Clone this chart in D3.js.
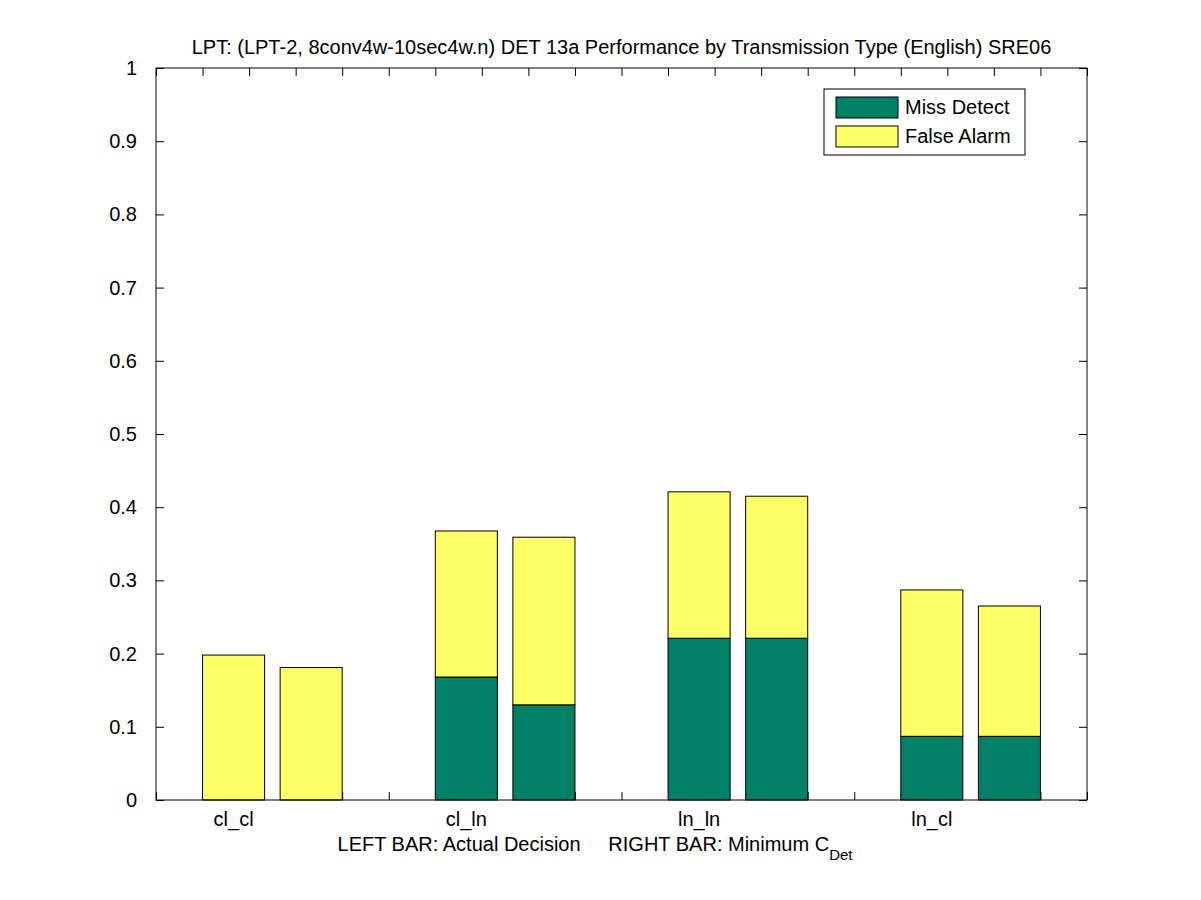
<!DOCTYPE html>
<html>
<head>
<meta charset="utf-8">
<script src="https://cdn.jsdelivr.net/npm/d3@7"></script>
<style>
  body { margin: 0; background: #fff; }
  svg { display: block; font-family: "Liberation Sans", Arial, sans-serif; }
</style>
</head>
<body>
<div id="chart"></div>
<script>
// categories and values
const categories = ['cl_cl', 'cl_ln', 'ln_ln', 'ln_cl'];
const missActual = [0.0, 0.168, 0.221, 0.087];
const faActual   = [0.198, 0.1995, 0.200, 0.200];
const missMin    = [0.0, 0.130, 0.221, 0.087];
const faMin      = [0.181, 0.229, 0.194, 0.178];
const yTicks = [0, 0.1, 0.2, 0.3, 0.4, 0.5, 0.6, 0.7, 0.8, 0.9, 1];

const W = 1201, H = 900;
const m = {left: 156, right: 114, top: 68, bottom: 100};
const iw = W - m.left - m.right, ih = H - m.top - m.bottom;
const fs = 20;

const colMiss = '#008066', colFA = '#ffff66';

const svg = d3.select('#chart').append('svg').attr('width', W).attr('height', H);
const g = svg.append('g').attr('transform', `translate(${m.left},${m.top})`);

const x = d3.scaleLinear().domain([0, 20]).range([0, iw]);
const y = d3.scaleLinear().domain([0, 1]).range([ih, 0]);

// bar layout: group k covers units 5k+1 .. 5k+4, two bars with a small gap
const bw = 4 / 3;
let bars = [];
categories.forEach((c, i) => {
  bars.push({cat: c, x0: 5 * i + 1, miss: missActual[i], fa: faActual[i]});
  bars.push({cat: c, x0: 5 * i + 1 + bw + 1 / 3, miss: missMin[i], fa: faMin[i]});
});

// axes: ticks inward on all sides
const xt = d3.range(0, 21);
const tl = 8;
g.append('g').attr('transform', `translate(0,${ih})`)
  .call(d3.axisBottom(x).tickValues(xt).tickSizeInner(-tl).tickSizeOuter(0).tickFormat(''))
  .call(a => a.select('.domain').remove());
g.append('g')
  .call(d3.axisTop(x).tickValues(xt).tickSizeInner(-tl).tickSizeOuter(0).tickFormat(''))
  .call(a => a.select('.domain').remove());
g.append('g')
  .call(d3.axisLeft(y).tickValues(yTicks).tickSizeInner(-tl).tickSizeOuter(0).tickPadding(19).tickFormat(d3.format('')))
  .call(a => a.select('.domain').remove())
  .call(a => a.selectAll('text').attr('font-size', fs).attr('fill', '#000'));
g.append('g').attr('transform', `translate(${iw},0)`)
  .call(d3.axisRight(y).tickValues(yTicks).tickSizeInner(-tl).tickSizeOuter(0).tickFormat(''))
  .call(a => a.select('.domain').remove());
g.selectAll('.tick line').attr('stroke', '#000');

// stacked bars
const bg = g.append('g');
bars.forEach(b => {
  if (b.miss > 0) {
    bg.append('rect')
      .attr('x', x(b.x0)).attr('width', x(b.x0 + bw) - x(b.x0))
      .attr('y', y(b.miss)).attr('height', y(0) - y(b.miss))
      .attr('fill', colMiss).attr('stroke', '#000').attr('stroke-width', 1);
  }
  bg.append('rect')
    .attr('x', x(b.x0)).attr('width', x(b.x0 + bw) - x(b.x0))
    .attr('y', y(b.miss + b.fa)).attr('height', y(b.miss) - y(b.miss + b.fa))
    .attr('fill', colFA).attr('stroke', '#000').attr('stroke-width', 1);
});

// frame
g.append('rect').attr('width', iw).attr('height', ih)
  .attr('fill', 'none').attr('stroke', '#000').attr('stroke-width', 1);

// category labels under the left bar of each group
g.selectAll('.cat').data(categories).enter().append('text')
  .attr('x', (d, i) => x(5 * i + 1 + bw / 2))
  .attr('y', ih + 26)
  .attr('text-anchor', 'middle').attr('font-size', fs)
  .text(d => d);

// x label with subscript
const xl = svg.append('text').attr('x', 595).attr('y', 851)
  .attr('text-anchor', 'middle').attr('font-size', fs).style('white-space', 'pre');
xl.append('tspan').text('LEFT BAR: Actual Decision     RIGHT BAR: Minimum C');
xl.append('tspan').text('Det').attr('font-size', 15).attr('dy', 9);

// title
svg.append('text').attr('x', m.left + iw / 2).attr('y', 54)
  .attr('text-anchor', 'middle').attr('font-size', fs)
  .text('LPT: (LPT-2, 8conv4w-10sec4w.n) DET 13a Performance by Transmission Type (English) SRE06');

// legend
const lg = svg.append('g').attr('transform', 'translate(824,89)');
lg.append('rect').attr('width', 201).attr('height', 66)
  .attr('fill', '#fff').attr('stroke', '#000');
const legItems = [['Miss Detect', colMiss], ['False Alarm', colFA]];
legItems.forEach((d, i) => {
  lg.append('rect').attr('x', 12).attr('y', 8 + i * 29).attr('width', 62).attr('height', 21)
    .attr('fill', d[1]).attr('stroke', '#000');
  lg.append('text').attr('x', 81).attr('y', 25 + i * 29).attr('font-size', fs).text(d[0]);
});
</script>
</body>
</html>
